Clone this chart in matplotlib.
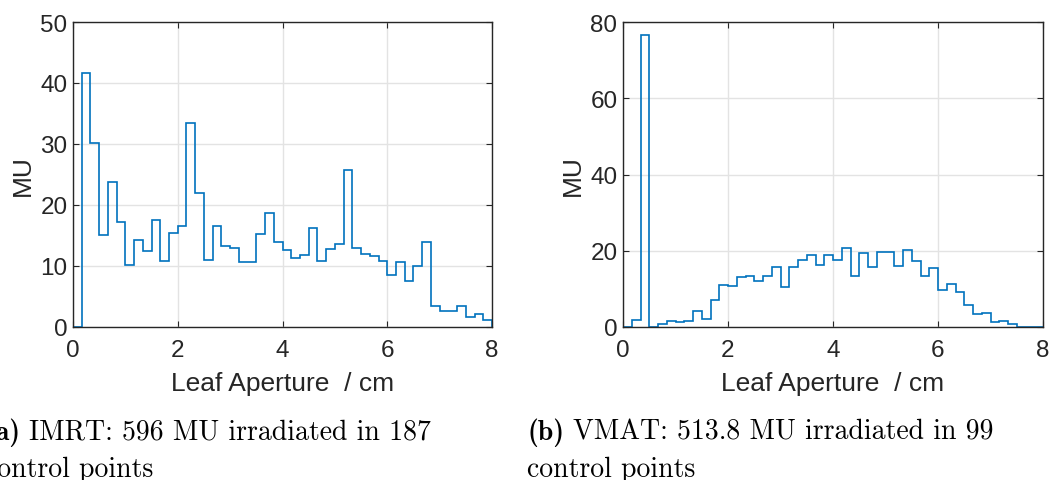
import numpy as np
import matplotlib
matplotlib.use("Agg")
import matplotlib.pyplot as plt

# histogram data: 48 bins of width 1/6 cm from 0 to 8 cm
bin_edges = np.linspace(0, 8, 49)

imrt_mu = [0, 41.6, 30.2, 15.1, 23.8, 17.2, 10.2, 14.2, 12.5, 17.6, 10.9, 15.4,
           16.6, 33.4, 22.0, 11.0, 16.6, 13.2, 13.0, 10.6, 10.6, 15.3, 18.7, 13.9,
           12.7, 11.3, 11.8, 16.2, 10.8, 12.8, 13.6, 25.8, 13.0, 11.9, 11.6, 10.8,
           8.6, 10.7, 7.5, 10.0, 13.9, 3.4, 2.7, 2.7, 3.5, 1.6, 2.1, 1.1]

vmat_mu = [0, 1.9, 76.6, 0, 0.7, 1.6, 1.2, 1.7, 4.2, 2.2, 7.0, 10.9,
           10.7, 13.1, 13.4, 12.0, 13.3, 15.7, 10.4, 15.7, 17.6, 18.9, 16.2, 19.0,
           17.5, 20.8, 13.5, 19.5, 15.8, 19.6, 19.8, 16.1, 20.2, 17.3, 13.5, 15.6,
           9.6, 11.2, 9.3, 5.7, 3.3, 3.8, 1.3, 1.5, 0.7, 0.1, 0, 0]

x_label = "Leaf Aperture  / cm"
y_label = "MU"
caption_tags = ["(a)", "(b)"]
caption_lines = [
    ("IMRT: 596 MU irradiated in 187", "control points"),
    ("VMAT: 513.8 MU irradiated in 99", "control points"),
]

W, H = 1051, 481
plt.rcParams["font.family"] = "Liberation Sans"

fig = plt.figure(figsize=(W / 100, H / 100), dpi=100)

line_color = "#0072BD"
text_color = "#262626"


def make_axes(left, right, top, bottom):
    return fig.add_axes([left / W, (H - bottom) / H, (right - left) / W, (bottom - top) / H])


def style_axes(ax, ymax, ystep):
    ax.set_xlim(0, 8)
    ax.set_ylim(0, ymax)
    ax.set_xticks(np.arange(0, 9, 2))
    ax.set_yticks(np.arange(0, ymax + 1, ystep))
    ax.grid(True, color="#e3e3e3", linewidth=1.0)
    ax.set_axisbelow(True)
    for s in ax.spines.values():
        s.set_color(text_color)
        s.set_linewidth(1.0)
    ax.tick_params(direction="in", length=4, width=0.8, color=text_color,
                   top=True, right=True, labelsize=17.5, labelcolor=text_color)
    ax.tick_params(axis="y", pad=4)
    ax.tick_params(axis="x", pad=9)
    ax.set_xlabel(x_label, fontsize=19, color=text_color, labelpad=7)
    ax.set_ylabel(y_label, fontsize=19, color=text_color, labelpad=4)


ax1 = make_axes(73, 492, 23, 328)
ax1.stairs(imrt_mu, bin_edges, color=line_color, linewidth=1.2, baseline=0)
style_axes(ax1, 50, 10)

ax2 = make_axes(623, 1043, 23, 328)
ax2.stairs(vmat_mu, bin_edges, color=line_color, linewidth=1.2, baseline=0)
style_axes(ax2, 80, 20)

renderer = fig.canvas.get_renderer()
for tag, (line1, line2), x0 in zip(caption_tags, caption_lines, [-15, 527]):
    t = fig.text(x0 / W, (H - 440) / H, tag, fontfamily="cmb10", fontsize=20,
                 color="black", va="baseline")
    tag_w = t.get_window_extent(renderer).width
    fig.text((x0 + tag_w + 9) / W, (H - 440) / H, line1, fontfamily="cmr10",
             fontsize=20, color="black", va="baseline")
    fig.text(x0 / W, (H - 477) / H, line2, fontfamily="cmr10", fontsize=20,
             color="black", va="baseline")

fig.savefig("out.png", dpi=100)
